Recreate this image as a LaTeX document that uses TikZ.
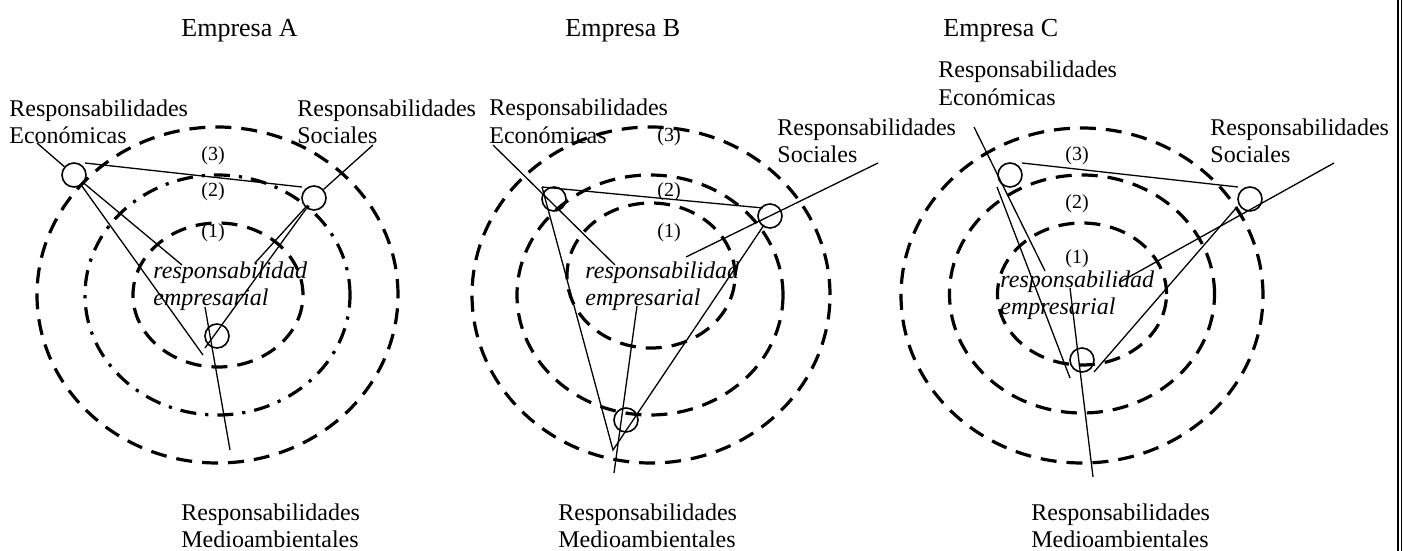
\documentclass[tikz,border=0pt]{standalone}
\usepackage{fontspec}
\setmainfont{Liberation Serif}
% two stacked lines whose reference point is the baseline of the first one
\newcommand{\pairtext}[2]{\begin{tabular}[t]{@{}l@{}}#1\\#2\end{tabular}}
\begin{document}
\begin{tikzpicture}[x=0.5pt,y=-0.5pt,
  ring/.style={line width=1.6pt, dash pattern=on 8pt off 5pt},
  ringdd/.style={line width=1.6pt, dash pattern=on 8pt off 4.5pt on 1.6pt off 4.5pt},
  spot/.style={circle, draw, line width=0.8pt, minimum size=12pt, inner sep=0pt},
  link/.style={line width=0.65pt},
  lbl/.style={anchor=base west, inner sep=0pt, font=\fontsize{12}{13.5}\selectfont},
  ttl/.style={anchor=base west, inner sep=0pt, font=\fontsize{13}{15}\selectfont},
  num/.style={inner sep=0pt, font=\fontsize{10}{12}\selectfont},
  core/.style={anchor=base west, inner sep=0pt, font=\fontsize{12}{13.5}\selectfont\itshape}
]
\useasboundingbox (0,0) rectangle (1403,551);

% ---------- titles ----------
\node[ttl] (tA) at (181,37) {Empresa A};
\node[ttl] (tB) at (565,37) {Empresa B};
\node[ttl] (tC) at (943,37) {Empresa C};

% ---------- Empresa A ----------
\draw[ring]   (217.5,295) ellipse [x radius=90.25pt, y radius=84pt];
\draw[ringdd] (217.5,295) ellipse [x radius=66.25pt, y radius=60pt];
\draw[ring]   (218,295)   ellipse [x radius=42.5pt,  y radius=36pt];

\node[num] (a3) at (213,156) {(3)};
\node[num] (a2) at (213,192) {(2)};
\node[num] (a1) at (213,233) {(1)};
\node[core] (aCore) at (153,278) {\pairtext{responsabilidad}{empresarial}};

\node[lbl] (aEco) at (9,117)   {\pairtext{Responsabilidades}{Económicas}};
\node[lbl] (aSoc) at (297,117) {\pairtext{Responsabilidades}{Sociales}};
\node[lbl] (aMed) at (181,520) {\pairtext{Responsabilidades}{Medioambientales}};

\node[spot] (eA) at (74,175) {};
\node[spot] (sA) at (314,198) {};
\node[spot] (mA) at (217,336) {};

\coordinate (aE1) at (37,143);
\coordinate (aT1) at (85,163);
\coordinate (aT2) at (302,187);
\coordinate (aR)  at (182,265);
\coordinate (aL)  at (203,355);
\coordinate (aS1) at (373,145);
\coordinate (aS2) at (255,263);
\coordinate (aS3) at (205,348);
\coordinate (aM1) at (205,307);
\coordinate (aM2) at (230,450);

\draw[link] (aE1) -- (eA);
\draw[link] (aT1) -- (aT2);
\draw[link] (eA) -- (aR);
\draw[link] (eA) -- (aL);
\draw[link] (aS1) -- (sA);
\draw[link] (sA) -- (aS2);
\draw[link] (sA) -- (aS3);
\draw[link] (aM1) -- (aM2);

% ---------- Empresa B ----------
\draw[ring] (651,295)   ellipse [x radius=89.5pt, y radius=84pt];
\draw[ring] (650,295)   ellipse [x radius=66.5pt, y radius=60pt];
\draw[ring] (651,275.5) ellipse [x radius=42pt,   y radius=36.25pt];

\node[num] (b3) at (669,137) {(3)};
\node[num] (b2) at (669,192) {(2)};
\node[num] (b1) at (669,233) {(1)};
\node[core] (bCore) at (585,278) {\pairtext{responsabilidad}{empresarial}};

\node[lbl] (bEco) at (489,116) {\pairtext{Responsabilidades}{Económicas}};
\node[lbl] (bSoc) at (777,135) {\pairtext{Responsabilidades}{Sociales}};
\node[lbl] (bMed) at (558,520) {\pairtext{Responsabilidades}{Medioambientales}};

\node[spot] (eB) at (554,199) {};
\node[spot] (sB) at (770,216) {};
\node[spot] (mB) at (626,420) {};

\coordinate (bE1) at (493,145);
\coordinate (bE2) at (615,265);
\coordinate (bT1) at (542,187);
\coordinate (bT2) at (763,208);
\coordinate (bT3) at (764,225);
\coordinate (bB)  at (613,450);
\coordinate (bS1) at (878,163);
\coordinate (bS2) at (686,257);
\coordinate (bM1) at (637,306);
\coordinate (bM2) at (614,473);

\draw[link] (bE1) -- (bE2);
\draw[link] (bT1) -- (bT2);
\draw[link] (bT3) -- (bB) -- (bT1);
\draw[link] (bS1) -- (bS2);
\draw[link] (bM1) -- (bM2);

% ---------- Empresa C ----------
\draw[ring] (1082,295.5) ellipse [x radius=90.5pt,  y radius=83.75pt];
\draw[ring] (1082,294)   ellipse [x radius=66.25pt, y radius=59.5pt];
\draw[ring] (1082,294)   ellipse [x radius=42.25pt, y radius=35.5pt];

\node[num] (c3) at (1077,156) {(3)};
\node[num] (c2) at (1077,204) {(2)};
\node[num] (c1) at (1077,259) {(1)};
\node[core] (cCore) at (1000,287) {\pairtext{responsabilidad}{empresarial}};

\node[lbl] (cEco) at (938,78)   {\pairtext{Responsabilidades}{Económicas}};
\node[lbl] (cSoc) at (1210,135) {\pairtext{Responsabilidades}{Sociales}};
\node[lbl] (cMed) at (1031,520) {\pairtext{Responsabilidades}{Medioambientales}};

\node[spot] (eC) at (1010,175) {};
\node[spot] (sC) at (1250,199) {};
\node[spot] (mC) at (1082,360) {};

\coordinate (cE1) at (974,127);
\coordinate (cE2) at (1045,271);
\coordinate (cE3) at (997,187);
\coordinate (cE4) at (1070,378);
\coordinate (cT1) at (1022,163);
\coordinate (cT2) at (1238,187);
\coordinate (cS1) at (1334,163);
\coordinate (cS2) at (1120,282);
\coordinate (cS3) at (1237,207);
\coordinate (cS4) at (1094,372);
\coordinate (cM1) at (1070,288);
\coordinate (cM2) at (1093,477);

\draw[link] (cE1) -- (cE2);
\draw[link] (cE3) -- (cE4);
\draw[link] (cT1) -- (cT2);
\draw[link] (cS1) -- (cS2);
\draw[link] (cS3) -- (cS4);
\draw[link] (cM1) -- (cM2);

% ---------- right frame rule ----------
\draw[line width=1.35pt] (1398,0) -- (1398,551);
\draw[line width=0.65pt] (1401.5,0) -- (1401.5,551);
\end{tikzpicture}
\end{document}
